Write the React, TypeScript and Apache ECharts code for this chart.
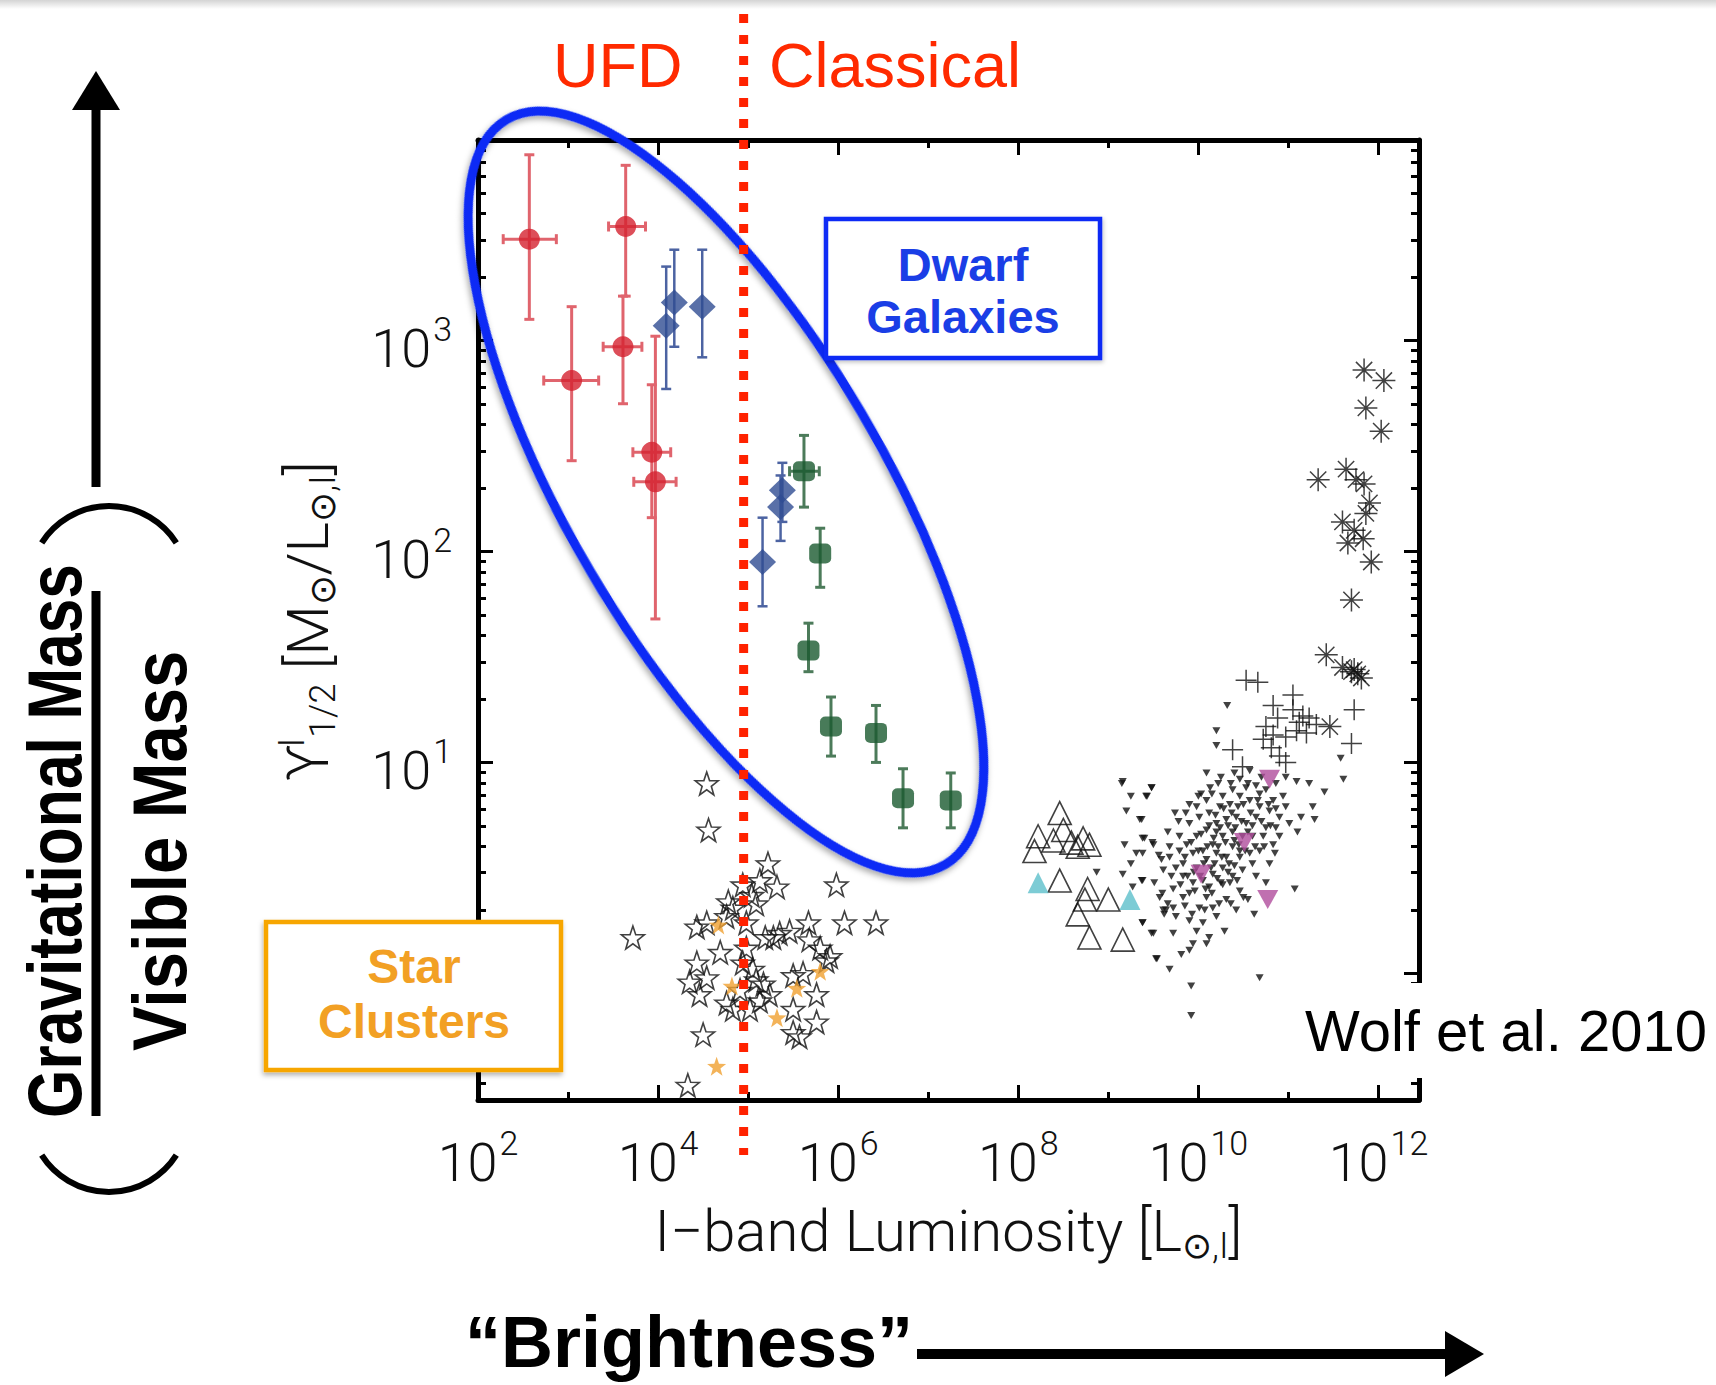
import React, { useEffect, useRef } from 'react';
import * as echarts from 'echarts';

// ---------- axis ranges (log10 units) ----------
const X_MIN = 2;
const X_MAX = 12.45;
const Y_MIN = -0.6;
const Y_MAX = 3.95;

// ---------- tick labels (exponents of 10) ----------
const xMajorExponents = [2, 4, 6, 8, 10, 12];
const xMinorExponents = [3, 5, 7, 9, 11];
const yMajorExponents = [0, 1, 2, 3];
const yLabelExponents = [1, 2, 3];
const yMinorTicks: number[] = [];
for (let e = -1; e <= 3; e++) {
  for (let k = 2; k <= 9; k++) {
    const v = e + Math.log10(k);
    if (v > Y_MIN && v < Y_MAX) yMinorTicks.push(v);
  }
}

// boundary between ultra-faint and classical dwarfs (log10 L)
const classicalBoundaryLogL = 4.95;

// ---------- data: [log10 L_I, log10 Y, xlo, xhi, ylo, yhi] ----------
const ufdRed = [
  [2.57, 3.48, 2.28, 2.87, 3.1, 3.88],
  [3.64, 3.54, 3.45, 3.86, 3.21, 3.83],
  [3.04, 2.81, 2.73, 3.34, 2.43, 3.16],
  [3.61, 2.97, 3.39, 3.82, 2.7, 3.21],
  [3.93, 2.47, 3.72, 4.14, 2.16, 2.79],
  [3.97, 2.33, 3.73, 4.2, 1.68, 3.02],
];
const dwarfBlue = [
  [4.09, 3.07, 4.09, 4.09, 2.77, 3.35],
  [4.18, 3.18, 4.18, 4.18, 2.97, 3.43],
  [4.49, 3.16, 4.49, 4.49, 2.92, 3.43],
  [5.16, 1.95, 5.16, 5.16, 1.74, 2.16],
  [5.36, 2.21, 5.36, 5.36, 2.05, 2.36],
  [5.38, 2.29, 5.38, 5.38, 2.14, 2.42],
];
const dwarfGreen = [
  [5.62, 2.38, 5.46, 5.79, 2.21, 2.55],
  [5.8, 1.99, 5.8, 5.8, 1.83, 2.11],
  [5.67, 1.53, 5.67, 5.67, 1.43, 1.66],
  [5.92, 1.17, 5.92, 5.92, 1.03, 1.31],
  [6.42, 1.14, 6.42, 6.42, 1.0, 1.27],
  [6.72, 0.83, 6.72, 6.72, 0.69, 0.97],
  [7.25, 0.82, 7.25, 7.25, 0.69, 0.95],
];
// [log10 L_I, log10 Y]
const globularOpen = [
  [4.54, 0.9], [4.56, 0.68], [5.22, 0.52], [5.32, 0.41], [4.94, 0.42], [5.98, 0.42], [5.09, 0.33],
  [4.83, 0.31], [3.72, 0.17], [4.43, 0.22], [4.54, 0.24], [4.76, 0.27], [4.98, 0.24], [5.19, 0.17],
  [5.35, 0.19], [5.67, 0.24], [6.07, 0.24], [6.42, 0.24], [5.68, 0.16], [5.8, 0.12], [4.69, 0.1],
  [5.91, 0.08], [4.43, 0.05], [4.94, 0.05], [5.05, 0.02], [4.35, -0.04], [4.54, -0.02], [4.46, -0.1],
  [4.91, -0.08], [5.17, -0.05], [5.24, -0.1], [5.5, -0.01], [5.76, -0.1], [5.87, 0.06], [4.83, -0.17],
  [5.02, -0.17], [5.13, -0.13], [5.5, -0.17], [5.76, -0.23], [5.5, -0.28], [5.57, -0.3], [4.5, -0.29],
  [4.33, -0.53], [4.78, 0.34], [5.04, 0.37], [5.13, 0.44], [5.28, 0.17], [5.46, 0.2], [4.98, 0.12],
  [5.09, -0.03], [4.76, -0.14], [5.61, 0.0],
];
const globularOrange = [
  [4.67, 0.23], [4.82, -0.06], [5.54, -0.07], [5.8, 0.01], [5.32, -0.21], [4.65, -0.44],
];
const dwarfEllipOpen = [
  [8.46, 0.76], [8.22, 0.65], [8.18, 0.58], [8.39, 0.63], [8.5, 0.68], [8.59, 0.62], [8.72, 0.64],
  [8.79, 0.61], [8.66, 0.6], [8.46, 0.44], [8.77, 0.4], [8.74, 0.35], [9.0, 0.35], [8.66, 0.28],
  [8.79, 0.17], [9.16, 0.16],
];
const dwarfEllipCyan = [[8.22, 0.43], [9.24, 0.35]];
const ellipticals = [
  [10.32, 1.27], [10.2, 1.15], [10.2, 1.08], [10.09, 0.95], [9.48, 0.88], [9.43, 0.84], [9.74, 0.76],
  [9.9, 0.8], [10.03, 0.85], [10.13, 0.88], [10.25, 0.93], [10.36, 0.9], [10.46, 0.92], [10.57, 0.96],
  [10.64, 0.89], [10.75, 0.87], [10.86, 0.9], [10.97, 0.93], [11.09, 0.91], [11.23, 0.9], [11.4, 0.86],
  [11.58, 1.02], [11.61, 0.92], [11.27, 0.79], [11.29, 0.73], [11.1, 0.67], [11.07, 0.4], [10.85, 0.57],
  [10.75, 0.43], [10.64, 0.46], [10.62, 0.28], [10.46, 0.39], [10.55, 0.35], [10.29, 0.2], [10.36, 0.33],
  [10.09, 0.14], [9.94, 0.14], [9.81, 0.09], [9.68, 0.02], [9.54, 0.07], [9.48, 0.19], [9.38, 0.24],
  [9.37, 0.44], [9.38, 0.57], [9.4, 0.64], [9.49, 0.62], [9.37, 0.73], [9.66, 0.67], [9.68, 0.55],
  [9.59, 0.54], [9.72, 0.4], [9.83, 0.46], [9.9, 0.38], [10.01, 0.31], [9.62, 0.28], [9.75, 0.27],
  [9.72, 0.19], [9.9, 0.25], [10.05, 0.24], [10.16, 0.31], [10.23, 0.33], [10.31, 0.35], [10.09, 0.36],
  [9.92, -0.06], [9.92, -0.2], [10.68, -0.02], [10.38, 0.6], [10.46, 0.55], [10.6, 0.52], [10.68, 0.58],
  [10.83, 0.61], [10.86, 0.69], [10.97, 0.79], [10.94, 0.84], [10.79, 0.77], [10.68, 0.79], [10.57, 0.82],
  [10.46, 0.84], [10.35, 0.8], [10.24, 0.79], [10.12, 0.76], [10.01, 0.74], [9.9, 0.71], [9.79, 0.65],
  [9.87, 0.61], [9.98, 0.65], [10.09, 0.68], [10.2, 0.71], [10.31, 0.73], [10.42, 0.74], [10.53, 0.71],
  [10.64, 0.74], [10.75, 0.69], [10.72, 0.65], [10.6, 0.65], [10.49, 0.65], [10.38, 0.67], [10.27, 0.65],
  [10.16, 0.61], [10.05, 0.58], [9.94, 0.57], [9.83, 0.52], [9.98, 0.5], [10.09, 0.54], [10.2, 0.57],
  [10.31, 0.55], [10.27, 0.5], [10.16, 0.47], [10.05, 0.44], [9.94, 0.43], [9.83, 0.36], [9.72, 0.31],
  [9.64, 0.3], [9.57, 0.36], [10.12, 0.41], [10.25, 0.43], [10.38, 0.46], [10.49, 0.49], [10.57, 0.57],
  [10.35, 0.43], [10.79, 0.52], [10.9, 0.65], [11.01, 0.71], [11.14, 0.74], [10.27, 0.84], [10.38, 0.87],
  [10.53, 0.88], [10.68, 0.85], [10.83, 0.82], [10.9, 0.74], [9.68, 0.6], [9.61, 0.49], [9.51, 0.43],
  [9.79, 0.58], [10.46, 0.58], [10.2, 0.67], [10.09, 0.82], [9.98, 0.79], [9.9, 0.11], [10.12, 0.17],
  [9.98, 0.2], [9.16, 0.91], [9.48, 0.88], [9.42, 0.84], [9.25, 0.84], [9.35, 0.73], [9.38, 0.64],
  [9.5, 0.61], [9.18, 0.61], [9.31, 0.57], [9.56, 0.56], [9.25, 0.52], [9.16, 0.47], [9.38, 0.44],
  [9.27, 0.41], [8.87, 0.48], [9.61, 0.3], [9.38, 0.24], [9.5, 0.19], [9.53, 0.07], [9.15, 0.9], [9.2, 0.77],
  [9.85, 0.55], [9.92, 0.62], [9.95, 0.48], [10.0, 0.58], [10.03, 0.66], [10.06, 0.52], [10.1, 0.6],
  [10.12, 0.7], [10.14, 0.5], [10.17, 0.64], [10.19, 0.75], [10.22, 0.6], [10.24, 0.69], [10.26, 0.55],
  [10.28, 0.78], [10.3, 0.62], [10.33, 0.7], [10.34, 0.52], [10.37, 0.76], [10.4, 0.63], [10.41, 0.69],
  [10.44, 0.79], [10.45, 0.61], [10.48, 0.72], [10.5, 0.8], [10.52, 0.58], [10.55, 0.67], [10.58, 0.76],
  [10.6, 0.7], [10.63, 0.6], [10.66, 0.82], [10.7, 0.72], [10.73, 0.6], [10.78, 0.8], [10.8, 0.7],
  [10.86, 0.78], [9.8, 0.42], [9.88, 0.46], [9.96, 0.39], [10.02, 0.46], [10.08, 0.4], [10.15, 0.38],
  [10.21, 0.45], [10.18, 0.52], [10.27, 0.42], [10.33, 0.48], [10.4, 0.51], [10.43, 0.44], [9.75, 0.5],
  [9.7, 0.46], [9.78, 0.72], [9.86, 0.76], [10.0, 0.84], [10.15, 0.85], [10.22, 0.9], [10.4, 0.95],
  [10.55, 0.9], [10.7, 0.93], [9.6, 0.38], [9.66, 0.33], [9.85, 0.32], [9.93, 0.28], [10.07, 0.3],
  [10.2, 0.27], [10.42, 0.3], [10.5, 0.36],
];
const ellipticalsPurple = [[10.79, 0.92], [10.51, 0.62], [10.03, 0.47], [10.77, 0.35]];
const galaxiesPlus = [
  [10.53, 1.39], [10.66, 1.38], [11.05, 1.32], [10.83, 1.27], [11.05, 1.25], [11.16, 1.22], [11.23, 1.21],
  [11.12, 1.19], [11.73, 1.25], [10.88, 1.21], [10.83, 1.13], [10.72, 1.11], [10.81, 1.07], [10.38, 1.06],
  [10.9, 1.03], [10.97, 1.0], [11.7, 1.09], [10.49, 0.98], [11.2, 1.14], [11.31, 1.18], [11.09, 1.15],
  [10.75, 1.17], [10.97, 1.12],
];
const clustersAsterisk = [
  [11.84, 2.86], [12.06, 2.81], [11.86, 2.68], [12.03, 2.57], [11.33, 2.34], [11.64, 2.39], [11.75, 2.34],
  [11.84, 2.32], [11.9, 2.23], [11.86, 2.18], [11.6, 2.14], [11.73, 2.1], [11.83, 2.06], [11.66, 2.04],
  [11.92, 1.95], [11.7, 1.77], [11.42, 1.51], [11.6, 1.45], [11.7, 1.43], [11.77, 1.42], [11.73, 1.44],
  [11.81, 1.4], [11.46, 1.17],
];

// ---------- styling ----------
const PLOT_FONT = 'Roboto, "DejaVu Sans", sans-serif';
const SANS = '"Liberation Sans", Arial, sans-serif';

const STAR_PATH =
  'path://M0,-10 L2.35,-3.24 L9.51,-3.09 L3.8,1.24 L5.88,8.09 L0,4 L-5.88,8.09 L-3.8,1.24 L-9.51,-3.09 L-2.35,-3.24 Z';
const PLUS_PATH = 'path://M0,-10 L0,10 M-10,0 L10,0';
const ASTER_PATH = 'path://M0,-10 L0,10 M-10,0 L10,0 M-7.07,-7.07 L7.07,7.07 M-7.07,7.07 L7.07,-7.07';
const DOWN_TRI = 'path://M0,0 L10,0 L5,9 Z';

const xTickRich = {
  base: { fontFamily: PLOT_FONT, fontWeight: 300, fontSize: 54, color: '#111' },
  sup: { fontFamily: PLOT_FONT, fontWeight: 300, fontSize: 34, color: '#111', padding: [0, 0, 38, 2] },
};
const yTickRich = {
  base: { fontFamily: PLOT_FONT, fontWeight: 300, fontSize: 54, color: '#111', padding: [16, 0, 0, 0] },
  sup: { fontFamily: PLOT_FONT, fontWeight: 300, fontSize: 34, color: '#111', padding: [0, 0, 22, 2] },
};
const nameRich = {
  t: { fontFamily: PLOT_FONT, fontWeight: 300, fontSize: 58, color: '#111' },
  sub: { fontFamily: PLOT_FONT, fontWeight: 300, fontSize: 36, color: '#111', padding: [30, 0, 0, 0] },
  sup: { fontFamily: PLOT_FONT, fontWeight: 300, fontSize: 36, color: '#111', padding: [0, 0, 32, 0] },
};
const powerLabel = (v: number) => `{base|10}{sup|${Math.round(v)}}`;

function errorBars(data: number[][], color: string, lineWidth: number, cap: number) {
  return {
    type: 'custom',
    xAxisIndex: 0,
    yAxisIndex: 0,
    silent: true,
    encode: { x: 0, y: 1 },
    data,
    renderItem: (_p: any, api: any) => {
      const x = api.value(0);
      const y = api.value(1);
      const xlo = api.value(2);
      const xhi = api.value(3);
      const ylo = api.value(4);
      const yhi = api.value(5);
      const style = { stroke: color, lineWidth };
      const children: any[] = [];
      const seg = (x1: number, y1: number, x2: number, y2: number) =>
        children.push({ type: 'line', shape: { x1, y1, x2, y2 }, style });
      if (yhi > ylo) {
        const a = api.coord([x, ylo]);
        const b = api.coord([x, yhi]);
        seg(a[0], a[1], b[0], b[1]);
        seg(a[0] - cap, a[1], a[0] + cap, a[1]);
        seg(b[0] - cap, b[1], b[0] + cap, b[1]);
      }
      if (xhi > xlo) {
        const a = api.coord([xlo, y]);
        const b = api.coord([xhi, y]);
        seg(a[0], a[1], b[0], b[1]);
        seg(a[0], a[1] - cap, a[0], a[1] + cap);
        seg(b[0], b[1] - cap, b[0], b[1] + cap);
      }
      return { type: 'group', children };
    },
  };
}

function scatter(data: number[][], symbol: string, size: any, itemStyle: any) {
  return {
    type: 'scatter',
    xAxisIndex: 0,
    yAxisIndex: 0,
    silent: true,
    data,
    symbol,
    symbolSize: size,
    symbolKeepAspect: false,
    itemStyle,
  };
}

const axisLineStyle = { color: '#000', width: 5 };

function xAxisDef(position: string, major: boolean, withLabels: boolean) {
  return {
    type: 'value',
    position,
    min: X_MIN,
    max: X_MAX,
    splitLine: { show: false },
    axisLine: { show: major, onZero: false, lineStyle: axisLineStyle },
    axisTick: {
      show: true,
      inside: true,
      length: major ? 15 : 8,
      lineStyle: { color: '#000', width: 3 },
      customValues: major ? xMajorExponents : xMinorExponents,
    },
    axisLabel: withLabels
      ? { show: true, margin: 26, customValues: xMajorExponents, formatter: powerLabel, rich: xTickRich }
      : { show: false },
    ...(withLabels
      ? {
          name: '{t|I\u2212band Luminosity [L}{sub|\u2299,I}{t|]}',
          nameLocation: 'middle',
          nameGap: 98,
          nameMoveOverlap: false,
          nameTextStyle: { rich: nameRich },
        }
      : {}),
  };
}

function yAxisDef(position: string, major: boolean, withLabels: boolean) {
  return {
    type: 'value',
    position,
    min: Y_MIN,
    max: Y_MAX,
    splitLine: { show: false },
    axisLine: { show: major, onZero: false, lineStyle: axisLineStyle },
    axisTick: {
      show: true,
      inside: true,
      length: major ? 15 : 8,
      lineStyle: { color: '#000', width: 3 },
      customValues: major ? yMajorExponents : yMinorTicks,
    },
    axisLabel: withLabels
      ? { show: true, margin: 26, customValues: yLabelExponents, formatter: powerLabel, rich: yTickRich }
      : { show: false },
    ...(withLabels
      ? {
          name: '{t|\u03D2}{sup|I}{sub|1/2}{t| [M}{sub|\u2299}{t|/L}{sub|\u2299,I}{t|]}',
          nameLocation: 'middle',
          nameGap: 136,
          nameRotate: 90,
          nameMoveOverlap: false,
          nameTextStyle: { rich: nameRich },
        }
      : {}),
  };
}

const option: any = {
  animation: false,
  backgroundColor: '#ffffff',
  grid: { left: 478, right: 297, top: 140, bottom: 285, containLabel: false, outerBoundsMode: 'none' },
  xAxis: [
    xAxisDef('bottom', true, true),
    xAxisDef('bottom', false, false),
    xAxisDef('top', true, false),
    xAxisDef('top', false, false),
  ],
  yAxis: [
    yAxisDef('left', true, true),
    yAxisDef('left', false, false),
    yAxisDef('right', true, false),
    yAxisDef('right', false, false),
  ],
  series: [
    scatter(ellipticals, DOWN_TRI, [8, 7], { color: '#111' }),
    scatter(ellipticalsPurple, DOWN_TRI, [21, 19], { color: '#b04c9c' }),
    scatter(galaxiesPlus, PLUS_PATH, 21, { color: 'transparent', borderColor: '#111', borderWidth: 1.5 }),
    scatter(clustersAsterisk, ASTER_PATH, 23, { color: 'transparent', borderColor: '#111', borderWidth: 1.5 }),
    scatter(dwarfEllipOpen, 'triangle', 23, { color: 'transparent', borderColor: '#111', borderWidth: 1.6 }),
    scatter(dwarfEllipCyan, 'triangle', 21, { color: '#5cbfca' }),
    scatter(globularOpen, STAR_PATH, 23, { color: 'transparent', borderColor: '#111', borderWidth: 1.6 }),
    scatter(globularOrange, STAR_PATH, 19, { color: '#f0a030' }),
    errorBars(ufdRed, '#e0646d', 3, 5),
    errorBars(dwarfBlue, '#4c63a2', 2.5, 5),
    errorBars(dwarfGreen, '#4c7b5a', 3, 5),
    scatter(ufdRed.map((d) => [d[0], d[1]]), 'circle', 21, { color: '#d4222f' }),
    scatter(dwarfBlue.map((d) => [d[0], d[1]]), 'diamond', [27, 26], { color: '#2f4c92' }),
    scatter(dwarfGreen.map((d) => [d[0], d[1]]), 'roundRect', [22, 20], { color: '#1a5a30' }),
  ],
};

function buildGraphics(bx: number) {
  const deg = Math.PI / 180;
  const els: any[] = [
    {
      type: 'rect',
      z: 90,
      shape: { x: 0, y: 0, width: 1716, height: 9 },
      style: {
        fill: new echarts.graphic.LinearGradient(0, 0, 0, 1, [
          { offset: 0, color: '#d4d4d4' },
          { offset: 1, color: '#ffffff' },
        ]),
      },
    },
    {
      type: 'text',
      z: 90,
      x: 553,
      y: 65,
      style: { text: 'UFD', font: `63px ${SANS}`, fill: '#ff2a00', align: 'left', verticalAlign: 'middle' },
    },
    {
      type: 'text',
      z: 90,
      x: 769,
      y: 65,
      style: { text: 'Classical', font: `63px ${SANS}`, fill: '#ff2a00', align: 'left', verticalAlign: 'middle' },
    },
    {
      type: 'ellipse',
      z: 70,
      x: 726,
      y: 492,
      rotation: -59.5 * deg,
      shape: { cx: 0, cy: 0, rx: 432, ry: 157 },
      style: {
        fill: 'none',
        stroke: '#0a2af5',
        lineWidth: 9,
        shadowBlur: 6,
        shadowColor: 'rgba(0,0,0,0.35)',
        shadowOffsetX: 2,
        shadowOffsetY: 3,
      },
    },
    {
      type: 'line',
      z: 80,
      shape: { x1: bx, y1: 14, x2: bx, y2: 1155 },
      style: { stroke: '#ff2200', lineWidth: 9, lineDash: [9, 12] },
    },
    // Dwarf Galaxies box
    {
      type: 'rect',
      z: 85,
      shape: { x: 826, y: 219, width: 274, height: 139 },
      style: { fill: '#ffffff', stroke: '#0a2af5', lineWidth: 4.5, shadowBlur: 4, shadowColor: 'rgba(0,0,0,0.25)', shadowOffsetX: 1, shadowOffsetY: 2 },
    },
    {
      type: 'text',
      z: 86,
      x: 963,
      y: 264,
      style: { text: 'Dwarf', font: `bold 47px ${SANS}`, fill: '#1a3ee6', align: 'center', verticalAlign: 'middle' },
    },
    {
      type: 'text',
      z: 86,
      x: 963,
      y: 316,
      style: { text: 'Galaxies', font: `bold 47px ${SANS}`, fill: '#1a3ee6', align: 'center', verticalAlign: 'middle' },
    },
    // Star Clusters box
    {
      type: 'rect',
      z: 85,
      shape: { x: 266, y: 922, width: 295, height: 148 },
      style: { fill: '#ffffff', stroke: '#f7a600', lineWidth: 4.5, shadowBlur: 5, shadowColor: 'rgba(0,0,0,0.3)', shadowOffsetX: -1, shadowOffsetY: 3 },
    },
    {
      type: 'text',
      z: 86,
      x: 414,
      y: 966,
      style: { text: 'Star', font: `bold 48px ${SANS}`, fill: '#f2a024', align: 'center', verticalAlign: 'middle' },
    },
    {
      type: 'text',
      z: 86,
      x: 414,
      y: 1021,
      style: { text: 'Clusters', font: `bold 48px ${SANS}`, fill: '#f2a024', align: 'center', verticalAlign: 'middle' },
    },
    // Wolf et al.
    {
      type: 'rect',
      z: 85,
      shape: { x: 1295, y: 983, width: 421, height: 95 },
      style: { fill: '#ffffff' },
    },
    {
      type: 'text',
      z: 86,
      x: 1305,
      y: 1030,
      style: { text: 'Wolf et al. 2010', font: `58px ${SANS}`, fill: '#000', align: 'left', verticalAlign: 'middle' },
    },
    // left: arrow
    {
      type: 'line',
      z: 90,
      shape: { x1: 96, y1: 487, x2: 96, y2: 100 },
      style: { stroke: '#000', lineWidth: 9 },
    },
    {
      type: 'polygon',
      z: 90,
      shape: { points: [[72, 110], [120, 110], [96, 71]] },
      style: { fill: '#000' },
    },
    // parentheses
    {
      type: 'arc',
      z: 90,
      shape: { cx: 109, cy: 586, r: 80, startAngle: -Math.PI / 2 - 1.0, endAngle: -Math.PI / 2 + 1.0, clockwise: true },
      style: { stroke: '#000', lineWidth: 6, fill: 'none' },
    },
    {
      type: 'arc',
      z: 90,
      shape: { cx: 109, cy: 1112, r: 80, startAngle: Math.PI / 2 - 1.0, endAngle: Math.PI / 2 + 1.0, clockwise: true },
      style: { stroke: '#000', lineWidth: 6, fill: 'none' },
    },
    {
      type: 'line',
      z: 90,
      shape: { x1: 96, y1: 591, x2: 96, y2: 1116 },
      style: { stroke: '#000', lineWidth: 9 },
    },
    {
      type: 'text',
      z: 90,
      x: 55,
      y: 841,
      rotation: Math.PI / 2,
      scaleX: 0.82,
      style: { text: 'Gravitational Mass', font: `bold 76px ${SANS}`, fill: '#000', align: 'center', verticalAlign: 'middle' },
    },
    {
      type: 'text',
      z: 90,
      x: 159,
      y: 851,
      rotation: Math.PI / 2,
      scaleX: 0.88,
      style: { text: 'Visible Mass', font: `bold 76px ${SANS}`, fill: '#000', align: 'center', verticalAlign: 'middle' },
    },
    // bottom: Brightness arrow
    {
      type: 'text',
      z: 90,
      x: 465,
      y: 1342,
      style: { text: '\u201CBrightness\u201D', font: `bold 72px ${SANS}`, fill: '#000', align: 'left', verticalAlign: 'middle' },
    },
    {
      type: 'line',
      z: 90,
      shape: { x1: 917, y1: 1354, x2: 1450, y2: 1354 },
      style: { stroke: '#000', lineWidth: 10 },
    },
    {
      type: 'polygon',
      z: 90,
      shape: { points: [[1445, 1331], [1445, 1377], [1484, 1354]] },
      style: { fill: '#000' },
    },
  ];
  return els;
}

export default function App() {
  const ref = useRef<HTMLDivElement>(null);
  useEffect(() => {
    if (!ref.current) return;
    const chart = echarts.init(ref.current, undefined, { renderer: 'svg' });
    chart.setOption(option);
    const bx = chart.convertToPixel({ xAxisIndex: 0 }, classicalBoundaryLogL) as unknown as number;
    chart.setOption({ graphic: { elements: buildGraphics(bx) } });
    return () => chart.dispose();
  }, []);
  return (
    <div
      ref={ref}
      style={{ position: 'absolute', left: 0, top: 0, width: 1716, height: 1385, background: '#ffffff' }}
    />
  );
}
